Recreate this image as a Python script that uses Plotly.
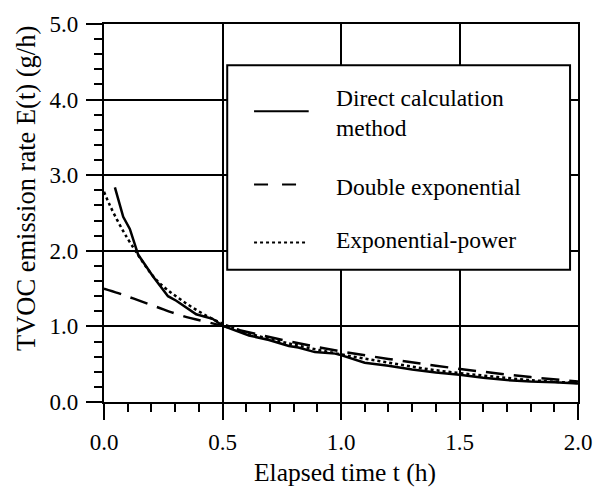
import plotly.graph_objects as go

# ---- data ----
direct_t = [0.046, 0.081, 0.109, 0.13, 0.144, 0.207, 0.27, 0.305, 0.389, 0.458, 0.5,
            0.55, 0.612, 0.696, 0.75, 0.78, 0.82, 0.89, 0.975, 1.0, 1.1, 1.2, 1.3,
            1.4, 1.5, 1.6, 1.7, 1.8, 1.9, 2.02]
direct_E = [2.84, 2.45, 2.29, 2.08, 1.95, 1.66, 1.40, 1.34, 1.16, 1.10, 1.01,
            0.95, 0.88, 0.82, 0.77, 0.74, 0.72, 0.66, 0.64, 0.62, 0.52, 0.48, 0.43,
            0.39, 0.36, 0.32, 0.29, 0.27, 0.26, 0.24]

dexp_t = [0.0, 0.06, 0.123, 0.22, 0.33, 0.458, 0.6, 0.8, 1.0, 1.2, 1.4, 1.6, 1.8, 2.0]
dexp_E = [1.50, 1.44, 1.37, 1.26, 1.14, 1.04, 0.93, 0.79, 0.67, 0.57, 0.48, 0.40, 0.33, 0.27]

epow_t = [0.0, 0.025, 0.067, 0.116, 0.22, 0.33, 0.47, 0.6, 0.8, 1.0, 1.2, 1.4, 1.6, 1.8, 2.0]
epow_E = [2.78, 2.60, 2.34, 2.08, 1.62, 1.34, 1.08, 0.92, 0.76, 0.63, 0.52, 0.42, 0.35, 0.29, 0.25]

x_ticks = [0.0, 0.5, 1.0, 1.5, 2.0]
y_ticks = [0.0, 1.0, 2.0, 3.0, 4.0, 5.0]

legend_labels = ["Direct calculation", "method", "Double exponential", "Exponential-power"]

FONT = "Liberation Serif"
W, H = 604, 492
L, R, T, B = 104, 23, 16, 90
PW, PH = W - L - R, H - T - B


def px(x):
    return (x - L) / PW


def py(y):
    return (H - B - y) / PH


fig = go.Figure()
fig.add_trace(go.Scatter(x=direct_t, y=direct_E, mode="lines",
                         line=dict(color="black", width=2.5), showlegend=False))
fig.add_trace(go.Scatter(x=dexp_t, y=dexp_E, mode="lines", line_shape="spline",
                         line=dict(color="black", width=2.5, dash="18px,10px"),
                         showlegend=False))
fig.add_trace(go.Scatter(x=epow_t, y=epow_E, mode="lines", line_shape="spline",
                         line=dict(color="black", width=2.5, dash="3px,3px"),
                         showlegend=False))

shapes = []
# legend box
shapes.append(dict(type="rect", xref="paper", yref="paper",
                   x0=px(228), x1=px(573), y0=py(267), y1=py(58),
                   fillcolor="white", line=dict(color="black", width=2), layer="above"))
# legend samples
shapes.append(dict(type="line", xref="paper", yref="paper", x0=px(255), x1=px(310),
                   y0=py(105), y1=py(105), line=dict(color="black", width=2), layer="above"))
shapes.append(dict(type="line", xref="paper", yref="paper", x0=px(255), x1=px(298),
                   y0=py(180), y1=py(180), line=dict(color="black", width=2, dash="14px,14px"),
                   layer="above"))
shapes.append(dict(type="line", xref="paper", yref="paper", x0=px(255), x1=px(309),
                   y0=py(239), y1=py(239), line=dict(color="black", width=2, dash="3px,3px"),
                   layer="above"))

annotations = []
for lab, yy in zip(legend_labels, [92, 122, 182, 237]):
    annotations.append(dict(text=lab, xref="paper", yref="paper", x=px(335), y=py(yy),
                            xanchor="left", yanchor="middle", showarrow=False,
                            font=dict(family=FONT, size=23.5, color="black")))
annotations.append(dict(text="Elapsed time t (h)", xref="paper", yref="paper",
                        x=px(347), y=py(474), xanchor="center", yanchor="middle",
                        showarrow=False, font=dict(family=FONT, size=25.5, color="black")))
annotations.append(dict(text="TVOC emission rate E(t) (g/h)", xref="paper", yref="paper",
                        x=px(25), y=py(184), xanchor="center", yanchor="middle",
                        textangle=-90, showarrow=False,
                        font=dict(family=FONT, size=26.5, color="black")))

axis_common = dict(showline=True, linecolor="black", linewidth=2.2, mirror=True,
                   showgrid=True, gridcolor="black", gridwidth=1.8, zeroline=False,
                   ticks="outside", ticklen=16, tickwidth=2, tickcolor="black",
                   tickfont=dict(family=FONT, size=23, color="black"))

fig.update_layout(
    width=W, height=H, margin=dict(l=L, r=R, t=T, b=B),
    paper_bgcolor="white", plot_bgcolor="white",
    shapes=shapes, annotations=annotations,
    xaxis=dict(range=[0, 2.0], tickvals=x_ticks, ticktext=[f"{v:.1f}" for v in x_ticks],
               minor=dict(dtick=0.1, tick0=0, ticks="outside", ticklen=8, tickwidth=2,
                          tickcolor="black", showgrid=False),
               ticklabelstandoff=2, **axis_common),
    yaxis=dict(range=[0, 5.0], tickvals=y_ticks, ticktext=[f"{v:.1f}" for v in y_ticks],
               minor=dict(dtick=0.2, tick0=0, ticks="outside", ticklen=8, tickwidth=2,
                          tickcolor="black", showgrid=False),
               ticklabelstandoff=3, **axis_common),
)

fig.write_html("out.html")
